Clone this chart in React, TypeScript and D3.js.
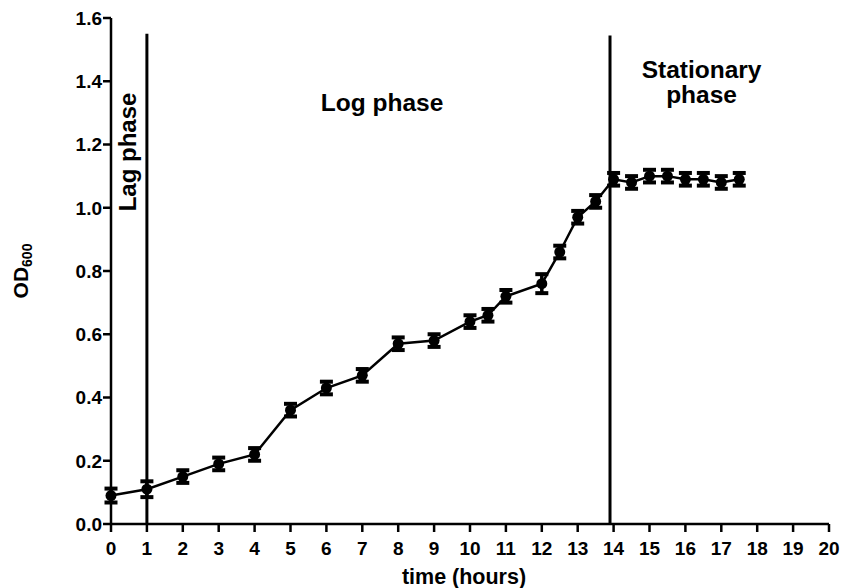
import React from "react";
import * as d3 from "d3";

const times = [0, 1, 2, 3, 4, 5, 6, 7, 8, 9, 10, 10.5, 11, 12, 12.5, 13, 13.5, 14, 14.5, 15, 15.5, 16, 16.5, 17, 17.5];
const od = [0.09, 0.11, 0.15, 0.19, 0.22, 0.36, 0.43, 0.47, 0.57, 0.58, 0.64, 0.66, 0.72, 0.76, 0.86, 0.97, 1.02, 1.09, 1.08, 1.1, 1.1, 1.09, 1.09, 1.08, 1.09];
const err = [0.022, 0.025, 0.02, 0.02, 0.02, 0.02, 0.02, 0.02, 0.02, 0.02, 0.02, 0.02, 0.02, 0.03, 0.02, 0.02, 0.02, 0.02, 0.02, 0.02, 0.02, 0.02, 0.02, 0.02, 0.02];
const xTicks = d3.range(0, 21, 1);
const yTicks = [0, 0.2, 0.4, 0.6, 0.8, 1.0, 1.2, 1.4, 1.6];
const phaseLines = [
  { x: 1, top: 1.55 },
  { x: 13.9, top: 1.545 },
];
const phaseLabels = [
  { text: ["Log phase"], x: 7.55, y: 1.305, rotate: false },
  { text: ["Stationary", "phase"], x: 16.45, y: 1.41, rotate: false },
];

export default function App() {
  const W = 843, H = 588;
  const x = d3.scaleLinear().domain([0, 20]).range([111, 829]);
  const y = d3.scaleLinear().domain([0, 1.6]).range([524, 18]);
  const pts = times.map((t, i) => ({ t, v: od[i], e: err[i] }));
  const line = d3.line<any>().x((d) => x(d.t)).y((d) => y(d.v));
  const font = "'Liberation Sans', Arial, Helvetica, sans-serif";
  const capW = 6.5;
  return (
    <svg width={W} height={H} style={{ position: "absolute", left: 0, top: 0, background: "#fff" }} fontFamily={font}>
      <rect x={0} y={0} width={W} height={H} fill="#fff" />
      {phaseLines.map((p, i) => (
        <line key={i} x1={x(p.x)} x2={x(p.x)} y1={y(p.top)} y2={y(0)} stroke="#000" strokeWidth={3} />
      ))}
      <line x1={x(0)} x2={x(0)} y1={y(1.6)} y2={y(0)} stroke="#000" strokeWidth={2.5} />
      <line x1={x(0)} x2={x(20)} y1={y(0)} y2={y(0)} stroke="#000" strokeWidth={2.5} />
      {yTicks.map((v) => (
        <g key={"y" + v}>
          <line x1={x(0) - 8} x2={x(0)} y1={y(v)} y2={y(v)} stroke="#000" strokeWidth={2.5} />
          <text x={x(0) - 9} y={y(v)} dy="0.36em" textAnchor="end" fontSize={19} fontWeight="bold" fill="#000">
            {v.toFixed(1)}
          </text>
        </g>
      ))}
      {xTicks.map((v) => (
        <g key={"x" + v}>
          <line x1={x(v)} x2={x(v)} y1={y(0)} y2={y(0) + 8} stroke="#000" strokeWidth={2.5} />
          <text x={x(v)} y={y(0) + 31} textAnchor="middle" fontSize={19} fontWeight="bold" fill="#000">
            {v}
          </text>
        </g>
      ))}
      <text x={464} y={584} textAnchor="middle" fontSize={21.5} fontWeight="bold" fill="#000">
        time (hours)
      </text>
      <text transform={`translate(28, ${(y(0) + y(1.6)) / 2}) rotate(-90)`} textAnchor="middle" fontSize={21} fontWeight="bold" fill="#000">
        OD<tspan fontSize={14} dy={4}>600</tspan>
      </text>
      <text transform={`translate(136, 152) rotate(-90)`} textAnchor="middle" fontSize={24} fontWeight="bold" fill="#000">
        Lag phase
      </text>
      {phaseLabels.map((p, i) => (
        <text key={i} x={x(p.x)} y={y(p.y)} textAnchor="middle" fontSize={24.5} fontWeight="bold" fill="#000">
          {p.text.map((s, j) => (
            <tspan key={j} x={x(p.x)} dy={j === 0 ? 0 : 25}>{s}</tspan>
          ))}
        </text>
      ))}
      <path d={line(pts) || ""} fill="none" stroke="#000" strokeWidth={2.5} />
      {pts.map((d, i) => (
        <g key={i}>
          <line x1={x(d.t)} x2={x(d.t)} y1={y(d.v - d.e)} y2={y(d.v + d.e)} stroke="#000" strokeWidth={3.5} />
          <line x1={x(d.t) - capW} x2={x(d.t) + capW} y1={y(d.v + d.e)} y2={y(d.v + d.e)} stroke="#000" strokeWidth={4} />
          <line x1={x(d.t) - capW} x2={x(d.t) + capW} y1={y(d.v - d.e)} y2={y(d.v - d.e)} stroke="#000" strokeWidth={4} />
          <circle cx={x(d.t)} cy={y(d.v)} r={5.5} fill="#000" />
        </g>
      ))}
    </svg>
  );
}
